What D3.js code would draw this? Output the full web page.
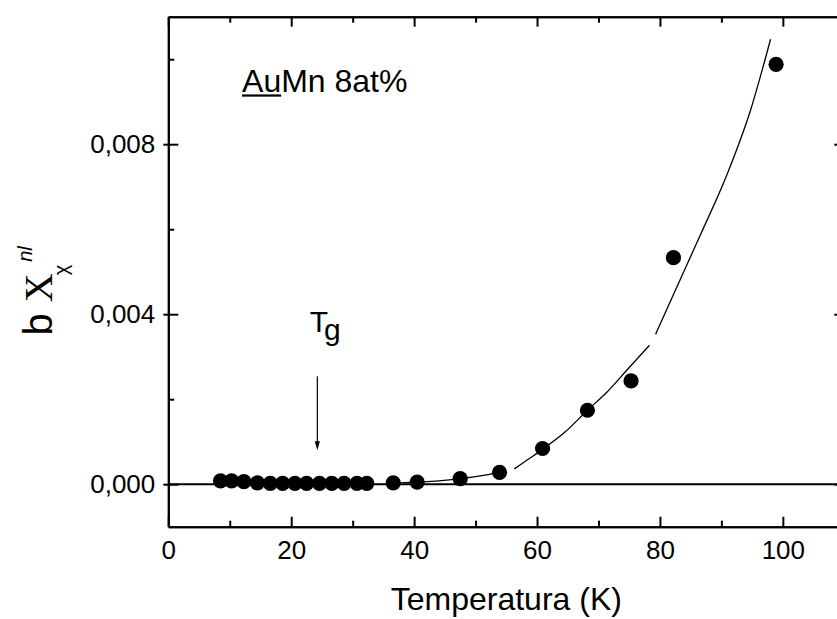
<!DOCTYPE html>
<html>
<head>
<meta charset="utf-8">
<script src="https://cdn.jsdelivr.net/npm/d3@7"></script>
<style>
  html, body { margin: 0; padding: 0; background: #fff; }
  svg { display: block; }
  text { font-family: "Liberation Sans", Arial, sans-serif; fill: #000; }
</style>
</head>
<body>
<svg id="chart" width="837" height="619"></svg>
<script>
// ---- data ----
const temperature = [8.5, 10.3, 12.3, 14.5, 16.6, 18.6, 20.6, 22.5, 24.6, 26.6, 28.6, 30.7, 32.3, 36.6, 40.5, 47.5, 53.9, 60.9, 68.2, 75.3, 82.2, 98.9];
const chiNL = [0.00008, 0.00008, 0.00006, 0.00003, 0.00002, 0.00002, 0.00002, 0.00002, 0.00002, 0.00002, 0.00002, 0.00002, 0.00002, 0.00003, 0.00005, 0.00013, 0.00028, 0.00084, 0.00174, 0.00243, 0.00533, 0.00988];

// fitted curve (null = gap in the drawn line)
const fitT = [36.0, 40.5, 44.0, 47.5, 51.0, 53.9, null, 56.3, 58.5, 60.9, 64.5, 68.2, 71.4, 74.6, 78.3, null, 79.3, 82.0, 86.5, 90.9, 94.7, 98.0];
const fitV = [0.00002, 0.00005, 0.00008, 0.00013, 0.00020, 0.00028, null, 0.00036, 0.00058, 0.00082, 0.00122, 0.00174, 0.00217, 0.00268, 0.00327, null, 0.00353, 0.00440, 0.00584, 0.00728, 0.00878, 0.01047];

const xMajorTicks = [0, 20, 40, 60, 80, 100];
const xMinorTicks = [10, 30, 50, 70, 90, 110];
const yMajorTicks = [0, 0.004, 0.008];
const yMinorTicks = [0.002, 0.006, 0.010];
const yTickLabels = ["0,000", "0,004", "0,008"];

const xLabel = "Temperatura (K)";
const sampleName = ["Au", "Mn 8at%"];
const tgArrow = { T: 24.25, from: 0.00254, to: 0.00080 };
const tgLabelPos = { T: 23.0, v: 0.00358 };
const sampleLabelPos = { T: 12.0, v: 0.00923 };

// ---- scales ----
const svg = d3.select("#chart");
svg.append("rect").attr("width", 837).attr("height", 619).attr("fill", "#fff");

const x = d3.scaleLinear().domain([0, 110]).range([168.3, 844.3]);
const y = d3.scaleLinear().domain([-0.001, 0.011]).range([526.7, 16.7]);
const [x0, x1] = x.range();
const [yb, yt] = y.range();

// ---- zero line ----
svg.append("line")
  .attr("x1", x0).attr("x2", x1)
  .attr("y1", y(0)).attr("y2", y(0))
  .attr("stroke", "#000").attr("stroke-width", 2);

// ---- axes ----
function styleAxis(g) {
  g.selectAll(".domain").attr("stroke", "#000").attr("stroke-width", 2);
  g.selectAll(".tick line").attr("stroke", "#000").attr("stroke-width", 2);
  g.selectAll("text").style("font-family", '"Liberation Sans", Arial, sans-serif').style("font-size", "26px").attr("fill", "#000");
}

// bottom
const gB = svg.append("g").attr("transform", `translate(0,${yb})`)
  .call(d3.axisBottom(x).tickValues(xMajorTicks).tickSizeInner(-10).tickSizeOuter(0).tickPadding(14).tickFormat(d3.format("d")));
styleAxis(gB);
const gBm = svg.append("g").attr("transform", `translate(0,${yb})`)
  .call(d3.axisBottom(x).tickValues(xMinorTicks).tickSizeInner(-6).tickSizeOuter(0).tickFormat(""));
styleAxis(gBm);

// top
const gT = svg.append("g").attr("transform", `translate(0,${yt})`)
  .call(d3.axisTop(x).tickValues(xMajorTicks).tickSizeInner(-10).tickSizeOuter(0).tickFormat(""));
styleAxis(gT);
const gTm = svg.append("g").attr("transform", `translate(0,${yt})`)
  .call(d3.axisTop(x).tickValues(xMinorTicks).tickSizeInner(-6).tickSizeOuter(0).tickFormat(""));
styleAxis(gTm);

// left
const gL = svg.append("g").attr("transform", `translate(${x0},0)`)
  .call(d3.axisLeft(y).tickValues(yMajorTicks).tickSizeInner(-10).tickSizeOuter(0).tickPadding(13)
    .tickFormat((d, i) => yTickLabels[i]));
styleAxis(gL);
gL.selectAll(".tick line").attr("x1", -5).attr("x2", 10);
const gLm = svg.append("g").attr("transform", `translate(${x0},0)`)
  .call(d3.axisLeft(y).tickValues(yMinorTicks).tickSizeInner(-6).tickSizeOuter(0).tickFormat(""));
styleAxis(gLm);

// right
const gR = svg.append("g").attr("transform", `translate(${x1},0)`)
  .call(d3.axisRight(y).tickValues(yMajorTicks).tickSizeInner(-10).tickSizeOuter(0).tickFormat(""));
styleAxis(gR);
const gRm = svg.append("g").attr("transform", `translate(${x1},0)`)
  .call(d3.axisRight(y).tickValues(yMinorTicks).tickSizeInner(-6).tickSizeOuter(0).tickFormat(""));
styleAxis(gRm);

// ---- fit curve ----
const fitData = fitT.map((t, i) => ({ t, v: fitV[i] }));
const line = d3.line()
  .defined(d => d.t !== null && d.v !== null)
  .x(d => x(d.t)).y(d => y(d.v))
  .curve(d3.curveMonotoneX);
svg.append("path")
  .datum(fitData)
  .attr("d", line)
  .attr("fill", "none").attr("stroke", "#000").attr("stroke-width", 1.3);

// ---- data points ----
svg.append("g").selectAll("circle")
  .data(temperature.map((t, i) => ({ t, v: chiNL[i] })))
  .join("circle")
  .attr("cx", d => x(d.t)).attr("cy", d => y(d.v))
  .attr("r", 7.6).attr("fill", "#000");

// ---- Tg arrow ----
const ax = x(tgArrow.T);
svg.append("line")
  .attr("x1", ax).attr("x2", ax)
  .attr("y1", y(tgArrow.from)).attr("y2", y(tgArrow.to) - 6)
  .attr("stroke", "#000").attr("stroke-width", 1.2);
svg.append("path")
  .attr("d", `M${ax - 2.6},${y(tgArrow.to) - 9} L${ax + 2.6},${y(tgArrow.to) - 9} L${ax},${y(tgArrow.to)} Z`)
  .attr("fill", "#000");

const tg = svg.append("text")
  .attr("x", x(tgLabelPos.T)).attr("y", y(tgLabelPos.v))
  .style("font-size", "30px");
tg.append("tspan").text("T");
tg.append("tspan").attr("dx", -4).attr("dy", 8).text("g");

// ---- sample label ----
const sl = svg.append("text")
  .attr("x", x(sampleLabelPos.T)).attr("y", y(sampleLabelPos.v))
  .style("font-size", "32px");
sl.append("tspan").text(sampleName[0]);
sl.append("tspan").text(sampleName[1]);
const slNode = sl.node();
const auW = slNode.getSubStringLength(0, sampleName[0].length);
svg.append("rect")
  .attr("x", x(sampleLabelPos.T)).attr("y", y(sampleLabelPos.v) + 2.5)
  .attr("width", auW).attr("height", 2.2).attr("fill", "#000");

// ---- x axis title ----
svg.append("text")
  .attr("x", (x(0) + x(110)) / 2).attr("y", 610)
  .attr("text-anchor", "middle")
  .style("font-size", "32px")
  .text(xLabel);

// ---- y axis title ----
const yl = svg.append("text")
  .attr("transform", "translate(52,335.6) rotate(-90)");
yl.append("tspan").style("font-size", "40px").text("b ");
yl.append("tspan").style("font-size", "40px").style("font-family", '"Liberation Serif", "Times New Roman", serif').text("X");
yl.append("tspan").style("font-size", "20px").attr("dx", -2).attr("dy", 16).text("χ");
yl.append("tspan").style("font-size", "20px").style("font-style", "italic").attr("dx", 3).attr("dy", -36).text("nl");
</script>
</body>
</html>
